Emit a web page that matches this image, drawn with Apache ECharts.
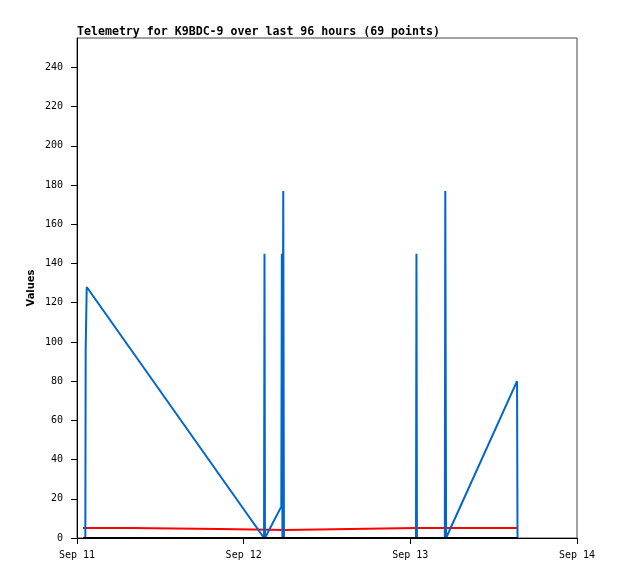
<!DOCTYPE html>
<html>
<head>
<meta charset="utf-8">
<script src="https://cdn.jsdelivr.net/npm/echarts@6/dist/echarts.min.js"></script>
<style>html,body{margin:0;padding:0;background:#fff}#c{width:618px;height:579px}</style>
</head>
<body>
<div id="c"></div>
<script>
var titleText = 'Telemetry for K9BDC-9 over last 96 hours (69 points)';
var yTicks = [0, 20, 40, 60, 80, 100, 120, 140, 160, 180, 200, 220, 240];
var xTicks = ['2023-09-11 00:00', '2023-09-12 00:00', '2023-09-13 00:00', '2023-09-14 00:00'];
var monthNames = ['Jan','Feb','Mar','Apr','May','Jun','Jul','Aug','Sep','Oct','Nov','Dec'];

var blueTimes = ['2023-09-11 00:52','2023-09-11 01:12','2023-09-11 01:15','2023-09-11 01:24',
  '2023-09-12 02:56','2023-09-12 03:00','2023-09-12 03:04','2023-09-12 05:25','2023-09-12 05:30',
  '2023-09-12 05:35','2023-09-12 05:42','2023-09-12 05:48','2023-09-13 00:49','2023-09-13 00:53',
  '2023-09-13 00:57','2023-09-13 04:58','2023-09-13 05:02','2023-09-13 05:09','2023-09-13 15:22',
  '2023-09-13 15:26'];
var blueValues = [0, 0, 96, 128, 0, 145, 0, 16, 145, 0, 177, 0, 0, 145, 0, 0, 177, 0, 80, 0];

var redTimes = ['2023-09-11 00:52','2023-09-11 07:47','2023-09-11 07:49','2023-09-11 20:26',
  '2023-09-11 20:28','2023-09-12 05:56','2023-09-12 05:58','2023-09-13 00:48','2023-09-13 00:53',
  '2023-09-13 00:58','2023-09-13 04:55','2023-09-13 05:00','2023-09-13 05:06','2023-09-13 15:26'];
var redValues = [5.1, 5.1, 4.6, 4.6, 4.1, 4.1, 5.1, 5.1, 4.2, 5.1, 5.1, 4.2, 5.1, 5.1];

var blackTimes = ['2023-09-11 00:52','2023-09-12 05:56','2023-09-13 15:26'];
var blackValues = [0, 0, 0];

var DAY = 86400000;
function ts(s) { return echarts.number.parseDate(s).getTime(); }
function pairs(t, v) { return t.map(function (d, i) { return [ts(d), v[i]]; }); }

var chart = echarts.init(document.getElementById('c'), null, {renderer: 'canvas'});
var mono = 'DejaVu Sans Mono';
chart.setOption({
  animation: false,
  backgroundColor: '#fff',
  title: {
    text: titleText, left: 72, top: 21,
    textStyle: {fontFamily: mono, fontWeight: 'bold', fontSize: 11.6, color: '#000'}
  },
  grid: {left: 77, top: 38, right: 41, bottom: 41, show: true, borderColor: '#444', borderWidth: 1},
  xAxis: {
    type: 'time',
    min: ts(xTicks[0]), max: ts(xTicks[xTicks.length - 1]),
    minInterval: DAY, maxInterval: DAY,
    splitLine: {show: false},
    axisLine: {lineStyle: {color: '#000', width: 1}},
    axisTick: {show: true, length: 6, lineStyle: {color: '#000'}},
    axisLabel: {
      margin: 12, fontFamily: mono, fontSize: 10, color: '#000',
      showMinLabel: true, showMaxLabel: true,
      formatter: function (v) { var d = new Date(v); return monthNames[d.getMonth()] + ' ' + d.getDate(); }
    }
  },
  yAxis: {
    type: 'value', min: 0, max: 255, interval: 20,
    name: 'Values', nameLocation: 'middle', nameGap: 40, nameRotate: 90, nameMoveOverlap: false,
    nameTextStyle: {fontFamily: 'DejaVu Sans Condensed, DejaVu Sans', fontWeight: 'bold', fontSize: 11, color: '#000'},
    splitLine: {show: false},
    axisLine: {show: true, lineStyle: {color: '#000', width: 1}},
    axisTick: {show: true, length: 6, lineStyle: {color: '#000'}, customValues: yTicks},
    axisLabel: {margin: 14, fontFamily: mono, fontSize: 10, color: '#000', customValues: yTicks}
  },
  series: [
    {type: 'line', data: pairs(redTimes, redValues), showSymbol: false, z: 2,
     lineStyle: {color: '#ff0000', width: 2}, itemStyle: {color: '#ff0000'}},
    {type: 'line', data: pairs(blueTimes, blueValues), showSymbol: false, z: 3,
     lineStyle: {color: '#0066cc', width: 2}, itemStyle: {color: '#0066cc'}},
    {type: 'line', data: pairs(blackTimes, blackValues), showSymbol: false, z: 4,
     lineStyle: {color: '#000000', width: 2}, itemStyle: {color: '#000'}}
  ]
});
</script>
</body>
</html>
